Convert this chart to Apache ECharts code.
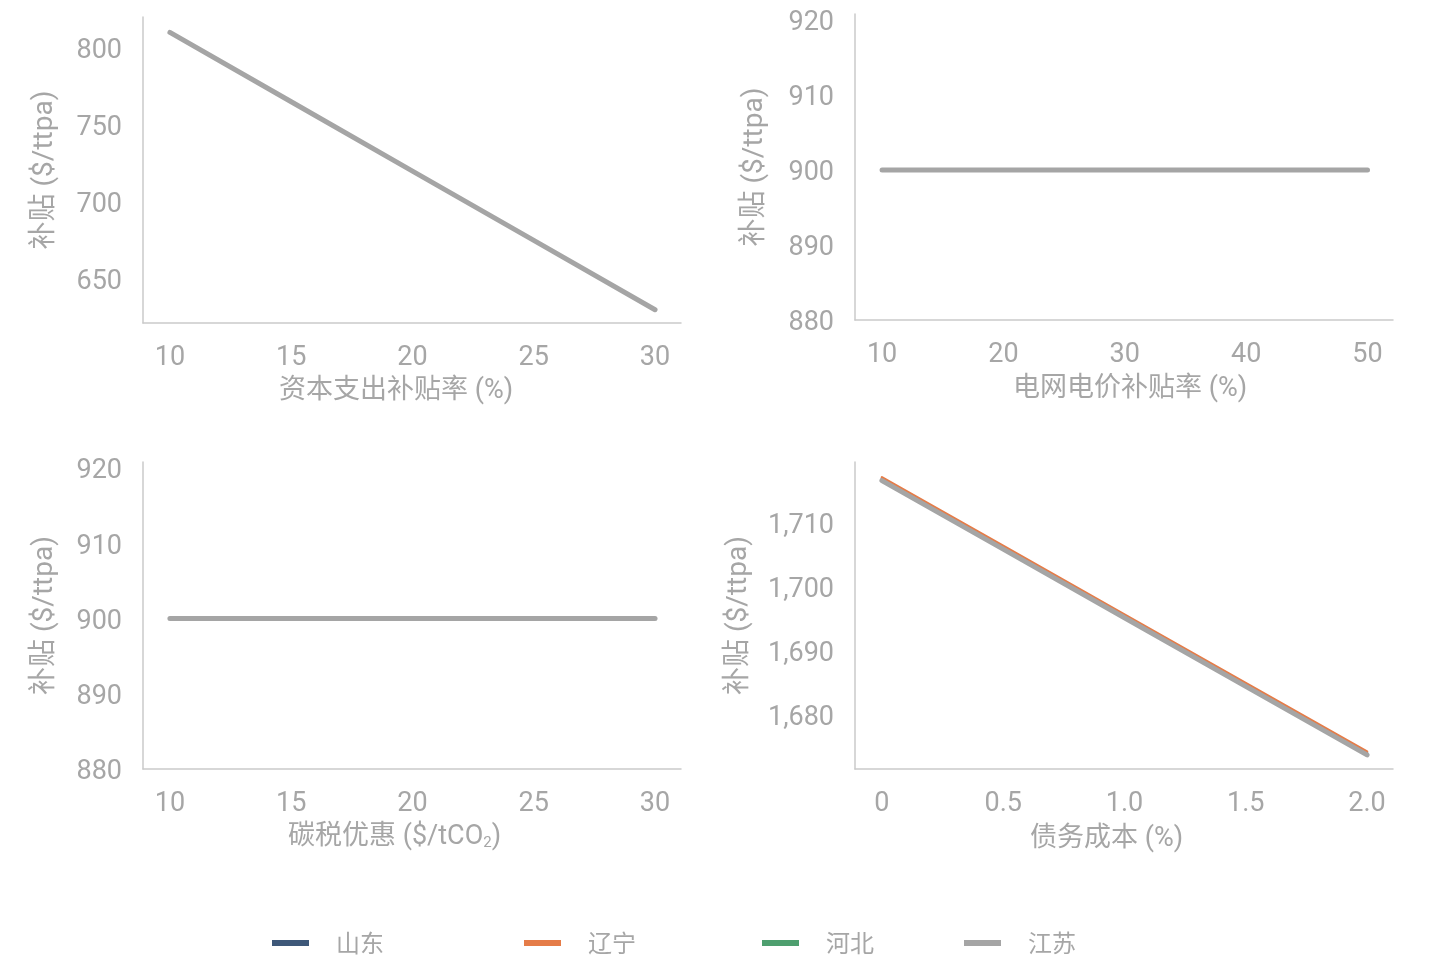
<!DOCTYPE html>
<html>
<head>
<meta charset="utf-8">
<script src="https://cdn.jsdelivr.net/npm/echarts@6/dist/echarts.min.js"></script>
<style>
  html, body { margin: 0; padding: 0; background: #fff; }
  #main { width: 1442px; height: 980px; }
</style>
</head>
<body>
<div id="main"></div>
<script>
// 省份与颜色
var provinces = ['山东', '辽宁', '河北', '江苏'];
var colors = ['#3e5879', '#e57c48', '#4e9f6f', '#a5a5a5'];

// 资本支出补贴率 (%)
var capexRate = [10, 15, 20, 25, 30];
var capexShandong = [810, 765, 720, 675, 630];
var capexLiaoning = [810, 765, 720, 675, 630];
var capexHebei = [810, 765, 720, 675, 630];
var capexJiangsu = [810, 765, 720, 675, 630];

// 电网电价补贴率 (%)
var tariffRate = [10, 20, 30, 40, 50];
var tariffShandong = [900, 900, 900, 900, 900];
var tariffLiaoning = [900, 900, 900, 900, 900];
var tariffHebei = [900, 900, 900, 900, 900];
var tariffJiangsu = [900, 900, 900, 900, 900];

// 碳税优惠 ($/tCO2)
var carbonTax = [10, 15, 20, 25, 30];
var carbonShandong = [900, 900, 900, 900, 900];
var carbonLiaoning = [900, 900, 900, 900, 900];
var carbonHebei = [900, 900, 900, 900, 900];
var carbonJiangsu = [900, 900, 900, 900, 900];

// 债务成本 (%)
var debtCost = [0, 0.5, 1.0, 1.5, 2.0];
var debtShandong = [1716.9, 1706.2, 1695.5, 1684.8, 1674.1];
var debtLiaoning = [1717.1, 1706.4, 1695.7, 1685.0, 1674.3];
var debtHebei = [1716.6, 1705.9, 1695.2, 1684.5, 1673.8];
var debtJiangsu = [1716.6, 1705.9, 1695.2, 1684.5, 1673.8];

// 刻度标签
var capexTicks = [10, 15, 20, 25, 30];
var tariffTicks = [10, 20, 30, 40, 50];
var debtTicks = [0, 0.5, 1.0, 1.5, 2.0];
var capexYTicks = [650, 700, 750, 800];
var flatYTicks = [880, 890, 900, 910, 920];
var debtYTicks = [1680, 1690, 1700, 1710];

var panels = [
  { x: capexRate, ys: [capexShandong, capexLiaoning, capexHebei, capexJiangsu] },
  { x: tariffRate, ys: [tariffShandong, tariffLiaoning, tariffHebei, tariffJiangsu] },
  { x: carbonTax, ys: [carbonShandong, carbonLiaoning, carbonHebei, carbonJiangsu] },
  { x: debtCost, ys: [debtShandong, debtLiaoning, debtHebei, debtJiangsu] }
];

var labelColor = '#a6a6a6';
var lineColor = '#cacaca';
var numFont = 'Roboto, "Noto Sans CJK SC", sans-serif';

function comma(v) {
  return String(v).replace(/\B(?=(\d{3})+(?!\d))/g, ',');
}

function xAxis(idx, min, max, ticks, name, gap, pad, fmt) {
  return {
    type: 'value', gridIndex: idx, min: min, max: max,
    name: name, nameLocation: 'middle', nameGap: gap,
    nameTextStyle: {
      color: labelColor, fontSize: 27, fontFamily: numFont, padding: pad,
      rich: { sub: { fontSize: 15, color: labelColor, fontFamily: numFont, verticalAlign: 'bottom', padding: [12, 0, 0, 0] } }
    },
    axisLine: { show: true, onZero: false, lineStyle: { color: lineColor, width: 1.5 } },
    axisTick: { show: false },
    splitLine: { show: false },
    axisLabel: {
      customValues: ticks, color: labelColor, fontSize: 27, fontFamily: numFont, margin: 22,
      formatter: fmt || function (v) { return String(v); }
    }
  };
}

function yAxis(idx, min, max, ticks, gap) {
  return {
    type: 'value', gridIndex: idx, min: min, max: max,
    name: '补贴 ($/ttpa)', nameLocation: 'middle', nameGap: gap,
    nameTextStyle: { color: labelColor, fontSize: 28, fontFamily: numFont },
    axisLine: { show: true, onZero: false, lineStyle: { color: lineColor, width: 1.5 } },
    axisTick: { show: false },
    splitLine: { show: false },
    axisLabel: {
      customValues: ticks, color: labelColor, fontSize: 27, fontFamily: numFont, margin: 21,
      verticalAlign: 'top', lineHeight: 7,
      formatter: function (v) { return comma(v); }
    }
  };
}

var series = [];
panels.forEach(function (p, g) {
  provinces.forEach(function (name, i) {
    series.push({
      name: name, type: 'line', xAxisIndex: g, yAxisIndex: g,
      data: p.x.map(function (xv, k) { return [xv, p.ys[i][k]]; }),
      showSymbol: false, symbol: 'none', silent: true,
      itemStyle: { color: colors[i] },
      lineStyle: { color: colors[i], width: i === 3 ? 5 : 2.5, cap: 'round', join: 'round' }
    });
  });
});

var legendLeft = [272, 524, 762, 964];
var legends = provinces.map(function (name, i) {
  return {
    data: [name], left: legendLeft[i], top: 931, padding: 0,
    icon: 'rect', itemWidth: 37, itemHeight: 6,
    textStyle: { color: labelColor, fontSize: 24, fontFamily: '"Noto Sans CJK SC", sans-serif', padding: [0, 0, 0, 22] },
    selectedMode: false
  };
});

var chart = echarts.init(document.getElementById('main'));
chart.setOption({
  animation: false,
  backgroundColor: '#ffffff',
  legend: legends,
  grid: [
    { left: 143, top: 17, width: 538, height: 306 },
    { left: 855, top: 14, width: 538, height: 306 },
    { left: 143, top: 462, width: 538, height: 307 },
    { left: 855, top: 462, width: 538, height: 307 }
  ],
  xAxis: [
    xAxis(0, 8.89, 31.07, capexTicks, '资本支出补贴率 (%)', 55, [0, 32, 0, 0]),
    xAxis(1, 7.77, 52.1, tariffTicks, '电网电价补贴率 (%)', 56, [0, 0, 0, 12]),
    xAxis(2, 8.89, 31.07, capexTicks, '碳税优惠 ($/tCO{sub|2})', 55, [0, 35, 0, 0]),
    xAxis(3, -0.111, 2.107, debtTicks, '债务成本 (%)', 57, [0, 35, 0, 0],
      function (v) { return v === 0 ? '0' : v.toFixed(1); })
  ],
  yAxis: [
    yAxis(0, 621.4, 820, capexYTicks, 84),
    yAxis(1, 880, 920.8, flatYTicks, 86),
    yAxis(2, 880, 920.8, flatYTicks, 84),
    yAxis(3, 1671.6, 1719.5, debtYTicks, 102)
  ],
  series: series
});
</script>
</body>
</html>
